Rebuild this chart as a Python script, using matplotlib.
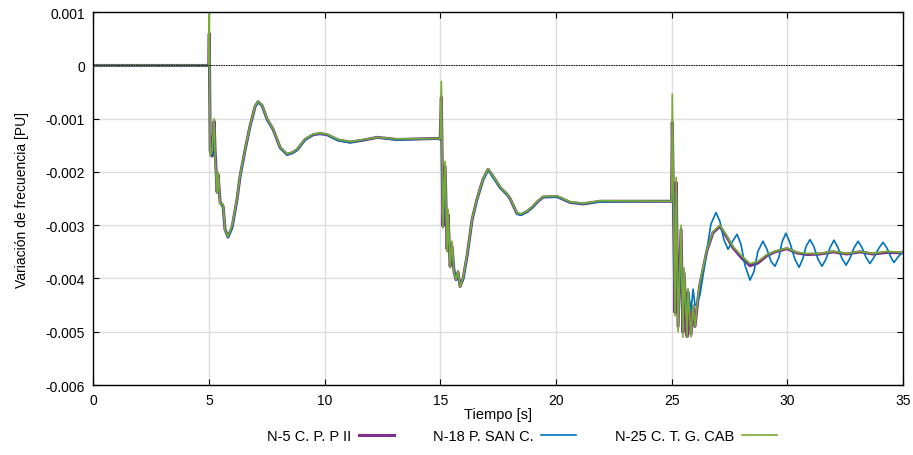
import matplotlib
matplotlib.use('Agg')
import matplotlib.pyplot as plt

plt.rcParams['font.family'] = ['Liberation Sans', 'DejaVu Sans']

# time points, purple and green share them
t_pg = [0, 5.0, 5.02, 5.06, 5.14, 5.23, 5.27, 5.36, 5.4, 5.49, 5.62, 5.7, 5.83,
        6.01, 6.22, 6.35, 6.57, 6.78, 7.0, 7.13, 7.3, 7.52, 7.78, 8.08, 8.38,
        8.6, 8.82, 9.0, 9.16, 9.51, 9.8, 10.11, 10.35, 10.59, 11.11, 11.7, 12.27,
        13.14, 14.87, 15.0, 15.05, 15.12, 15.21, 15.3, 15.34, 15.43, 15.51, 15.6,
        15.685, 15.77, 15.86, 15.99, 16.16, 16.38, 16.59, 16.85, 17.07, 17.28,
        17.59, 17.89, 18.02, 18.32, 18.5, 18.76, 19.01, 19.2, 19.45, 20.05, 20.61,
        21.18, 21.91, 25.0, 25.03, 25.15, 25.2, 25.28, 25.41, 25.49, 25.54, 25.67,
        25.71, 25.84, 25.93, 26.01, 26.14, 26.23, 26.36, 26.53, 26.79, 27.09,
        27.4, 27.65, 28.04, 28.39, 28.73, 29.12, 29.47, 29.99, 30.42, 30.85,
        31.41, 31.98, 32.58, 33.14, 33.7, 34.31, 35.0]

v_purple = [0, 0, 0.0006, -0.0016, -0.0017, -0.00105, -0.0016, -0.00238,
            -0.00205, -0.00257, -0.00265, -0.00308, -0.00322, -0.00303, -0.00251,
            -0.00208, -0.00158, -0.00114, -0.00077, -0.00068, -0.00075, -0.00101,
            -0.0012, -0.00154, -0.00167, -0.00164, -0.00158, -0.00148, -0.00139,
            -0.0013, -0.00128, -0.0013, -0.00135, -0.0014, -0.00144, -0.0014,
            -0.00135, -0.00139, -0.00137, -0.00138, -0.0006, -0.00302, -0.0019,
            -0.00345, -0.0028, -0.00377, -0.0034, -0.00388, -0.00402, -0.00388,
            -0.00415, -0.004, -0.00358, -0.00289, -0.00251, -0.00214, -0.00195,
            -0.00208, -0.00229, -0.00242, -0.0025, -0.00278, -0.0028, -0.00274,
            -0.00265, -0.00256, -0.00247, -0.00246, -0.00257, -0.0026, -0.00255,
            -0.00255, -0.00107, -0.00464, -0.0022, -0.0049, -0.00308, -0.00501,
            -0.0039, -0.00509, -0.00426, -0.00505, -0.00452, -0.0049, -0.00439,
            -0.0041, -0.00383, -0.00347, -0.00314, -0.00302, -0.00323, -0.00342,
            -0.00362, -0.00376, -0.00371, -0.00357, -0.0035, -0.00344, -0.00352,
            -0.00355, -0.00354, -0.0035, -0.00354, -0.0035, -0.00354, -0.00351,
            -0.00352]

v_green = [0, 0, 0.00096, -0.0017, -0.0016, -0.001, -0.0017, -0.0024, -0.002,
           -0.0026, -0.0026, -0.0031, -0.00321, -0.003, -0.0025, -0.00206,
           -0.00157, -0.00113, -0.00076, -0.00067, -0.00074, -0.001, -0.00119,
           -0.00153, -0.00166, -0.00163, -0.00157, -0.00147, -0.00138, -0.00129,
           -0.00127, -0.00129, -0.00134, -0.00139, -0.00143, -0.00139, -0.00135,
           -0.00138, -0.00137, -0.00138, -0.0003, -0.00305, -0.0018, -0.0035,
           -0.0027, -0.0038, -0.0033, -0.0039, -0.00402, -0.00385, -0.00416,
           -0.00398, -0.00356, -0.00288, -0.0025, -0.00213, -0.00194, -0.00207,
           -0.00228, -0.00241, -0.00249, -0.00277, -0.00279, -0.00273, -0.00264,
           -0.00255, -0.00246, -0.00245, -0.00256, -0.00259, -0.00254, -0.00255,
           -0.00054, -0.0047, -0.0021, -0.005, -0.003, -0.0051, -0.0038, -0.0051,
           -0.0042, -0.0051, -0.0045, -0.0049, -0.00435, -0.00407, -0.0038,
           -0.00345, -0.00312, -0.003, -0.00321, -0.0034, -0.00358, -0.00372,
           -0.00368, -0.00355, -0.00349, -0.00343, -0.00351, -0.00353, -0.00353,
           -0.00349, -0.00353, -0.00349, -0.00353, -0.00349, -0.00351]

t_blue = [0, 5.0, 5.02, 5.06, 5.14, 5.23, 5.27, 5.36, 5.4, 5.49, 5.62, 5.7, 5.83,
          6.01, 6.22, 6.35, 6.57, 6.78, 7.0, 7.13, 7.3, 7.52, 7.78, 8.08, 8.38,
          8.6, 8.82, 9.0, 9.16, 9.51, 9.8, 10.11, 10.35, 10.59, 11.11, 11.7, 12.27,
          13.14, 14.87, 15.0, 15.05, 15.12, 15.21, 15.3, 15.34, 15.43, 15.51, 15.6,
          15.685, 15.77, 15.86, 15.99, 16.16, 16.38, 16.59, 16.85, 17.07, 17.28,
          17.59, 17.89, 18.02, 18.32, 18.5, 18.76, 19.01, 19.2, 19.45, 20.05, 20.61,
          21.18, 21.91, 25.0, 25.03, 25.15, 25.2, 25.28, 25.41, 25.49, 25.54, 25.67,
          25.71, 25.84, 25.93, 26.01, 26.1, 26.23, 26.4, 26.53, 26.7, 26.92, 27.09,
          27.26, 27.44, 27.61, 27.83, 28.0, 28.17, 28.39, 28.56, 28.73, 28.95,
          29.12, 29.3, 29.47, 29.64, 29.77, 29.94, 30.11, 30.33, 30.51, 30.68,
          30.81, 30.98, 31.15, 31.33, 31.5, 31.67, 31.85, 32.02, 32.19, 32.36,
          32.54, 32.71, 32.88, 33.06, 33.23, 33.4, 33.57, 33.75, 33.96, 34.14,
          34.31, 34.48, 34.61, 34.78, 35.0]

v_blue = [0, 0, 0.0004, -0.0016, -0.0017, -0.0011, -0.0016, -0.00238, -0.00205,
          -0.00258, -0.00266, -0.0031, -0.00323, -0.00306, -0.00253, -0.0021,
          -0.0016, -0.00116, -0.00078, -0.00069, -0.00076, -0.00102, -0.00121,
          -0.00155, -0.00168, -0.00165, -0.00159, -0.00149, -0.0014, -0.0013,
          -0.00128, -0.0013, -0.00136, -0.00141, -0.00145, -0.0014, -0.00135,
          -0.0014, -0.00137, -0.00138, -0.0009, -0.003, -0.002, -0.0034, -0.0029,
          -0.0037, -0.0035, -0.0038, -0.00403, -0.0039, -0.00413, -0.00402,
          -0.0036, -0.00291, -0.00253, -0.00216, -0.00196, -0.0021, -0.0023,
          -0.00243, -0.0025, -0.00279, -0.00281, -0.00275, -0.00266, -0.00256,
          -0.00247, -0.00247, -0.00257, -0.0026, -0.00256, -0.00255, -0.0012,
          -0.0046, -0.0024, -0.0048, -0.0033, -0.0049, -0.0041, -0.0048, -0.0042,
          -0.0046, -0.0042, -0.0045, -0.00448, -0.0043, -0.00383, -0.00345,
          -0.00298, -0.00276, -0.00293, -0.00327, -0.00345, -0.00332, -0.00317,
          -0.00336, -0.00375, -0.00403, -0.00387, -0.00349, -0.0033, -0.00345,
          -0.00368, -0.00377, -0.0036, -0.00332, -0.00315, -0.00332, -0.00364,
          -0.00379, -0.00362, -0.0034, -0.00327, -0.0034, -0.00364, -0.00377,
          -0.00364, -0.00342, -0.00328, -0.00342, -0.00362, -0.00375, -0.00362,
          -0.00343, -0.0033, -0.00342, -0.0036, -0.00372, -0.0036, -0.00343,
          -0.00332, -0.00343, -0.0036, -0.0037, -0.0036, -0.00349]

labels = ['N-5 C. P. P II', 'N-18 P. SAN C.', 'N-25 C. T. G. CAB']
colors = ['#7E2F8E', '#0072BD', '#77AC30']

fig = plt.figure(figsize=(9.13, 4.56), dpi=100)
ax = fig.add_axes([0.102, 0.1535, 0.887, 0.8175])

ax.plot(t_pg, v_purple, color=colors[0], lw=2.2, label=labels[0])
ax.plot(t_blue, v_blue, color=colors[1], lw=1.2, label=labels[1])
ax.plot(t_pg, v_green, color=colors[2], lw=1.2, label=labels[2])
ax.axhline(0, color='black', lw=0.6, ls=(0, (2, 1)), zorder=3)

ax.set_xlim(0, 35)
ax.set_ylim(-0.006, 0.001)
ax.set_xticks(range(0, 36, 5))
ax.set_yticks([0.001, 0, -0.001, -0.002, -0.003, -0.004, -0.005, -0.006])
ax.set_yticklabels(['0.001', '0', '-0.001', '-0.002', '-0.003', '-0.004', '-0.005', '-0.006'])
ax.grid(True, color='#dddddd', lw=1)
ax.set_axisbelow(True)
ax.tick_params(direction='in', top=True, right=True, labelsize=10, length=4, pad=6)
for s in ax.spines.values():
    s.set_linewidth(1)

ax.set_xlabel('Tiempo [s]', fontsize=10.5, labelpad=0)
ax.set_ylabel('Variación de frecuencia [PU]', fontsize=10, labelpad=12)

fig.legend(loc='center', bbox_to_anchor=(522 / 913, 1 - 437 / 456), ncol=3,
           frameon=False, markerfirst=False, fontsize=10.5, handlelength=2.4,
           handletextpad=0.5, columnspacing=2.7)

fig.savefig('out.png', dpi=100)
